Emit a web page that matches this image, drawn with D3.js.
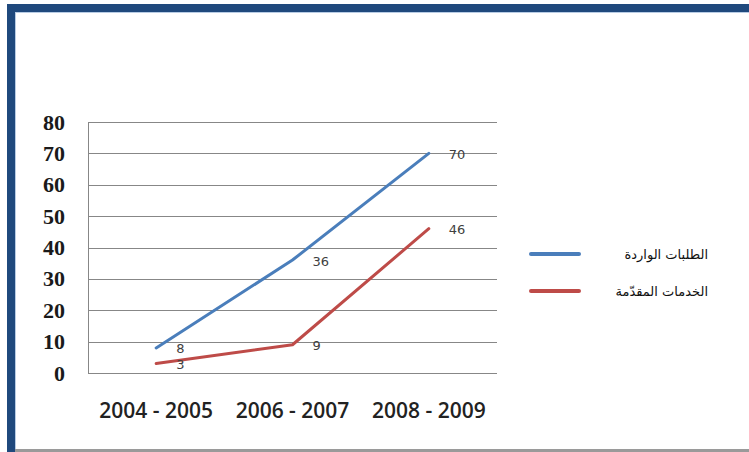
<!DOCTYPE html>
<html>
<head>
<meta charset="utf-8">
<script src="https://cdn.jsdelivr.net/npm/d3@7"></script>
<style>
  html, body { margin: 0; padding: 0; background: #fff; }
  svg { display: block; }
</style>
</head>
<body>
<svg id="chart" width="749" height="452"></svg>
<script>
const categories = ["2004 - 2005", "2006 - 2007", "2008 - 2009"];
const seriesNames = ["الطلبات الواردة", "الخدمات المقدّمة"];
const requests = [8, 36, 70];
const services = [3, 9, 46];
const yTicks = [0, 10, 20, 30, 40, 50, 60, 70, 80];
const colors = ["#4a7ebb", "#be4b48"];

const svg = d3.select("#chart");

// frame
svg.append("rect").attr("x", 0).attr("y", 0).attr("width", 749).attr("height", 452).attr("fill", "#fff");
svg.append("rect").attr("x", 7).attr("y", 4).attr("width", 742).attr("height", 8).attr("fill", "#1f497d");
svg.append("rect").attr("x", 7).attr("y", 4).attr("width", 8).attr("height", 448).attr("fill", "#1f497d");
svg.append("line").attr("x1", 15).attr("x2", 749).attr("y1", 12.5).attr("y2", 12.5).attr("stroke", "#b8cce4").attr("stroke-width", 1);
svg.append("line").attr("x1", 15.5).attr("x2", 15.5).attr("y1", 12).attr("y2", 449).attr("stroke", "#b8cce4").attr("stroke-width", 1);
svg.append("rect").attr("x", 15).attr("y", 449).attr("width", 734).attr("height", 3).attr("fill", "#9a9a9a");

const x = d3.scaleBand().domain(categories).range([88, 497]).padding(0);
const y = d3.scaleLinear().domain([0, 80]).range([373, 122]);
const cx = d => x(d) + x.bandwidth() / 2;

// gridlines
svg.append("g").selectAll("line").data(yTicks).join("line")
  .attr("x1", 88).attr("x2", 497)
  .attr("y1", d => Math.round(y(d)) + 0.5).attr("y2", d => Math.round(y(d)) + 0.5)
  .attr("stroke", "#878787").attr("stroke-width", 1);
svg.append("line").attr("x1", 88.5).attr("x2", 88.5).attr("y1", y(80)).attr("y2", y(0) + 1)
  .attr("stroke", "#878787").attr("stroke-width", 1);

// y labels
svg.append("g").selectAll("text").data(yTicks).join("text")
  .attr("x", 65).attr("y", d => y(d))
  .attr("text-anchor", "end").attr("dominant-baseline", "central")
  .attr("font-family", "Liberation Serif, serif").attr("font-weight", "bold")
  .attr("font-size", 22).attr("fill", "#1a1a1a")
  .text(d => d);

// x labels
svg.append("g").selectAll("text").data(categories).join("text")
  .attr("x", d => cx(d)).attr("y", 418)
  .attr("text-anchor", "middle")
  .attr("font-family", "Open Sans, sans-serif").attr("font-weight", 600)
  .attr("font-size", 21).attr("fill", "#222")
  .text(d => d);

const series = [requests, services];
const line = d3.line().x((d, i) => cx(categories[i])).y(d => y(d));

series.forEach((vals, si) => {
  svg.append("path").datum(vals)
    .attr("d", line)
    .attr("fill", "none").attr("stroke", colors[si]).attr("stroke-width", 3)
    .attr("stroke-linejoin", "round").attr("stroke-linecap", "round");
  svg.append("g").selectAll("text").data(vals).join("text")
    .attr("x", (d, i) => cx(categories[i]) + 20)
    .attr("y", d => y(d) + 1)
    .attr("dominant-baseline", "central")
    .attr("font-family", "DejaVu Sans, sans-serif").attr("font-size", 13)
    .attr("fill", "#404040")
    .text(d => d);
});

// legend
const legendY = [254, 291];
seriesNames.forEach((name, i) => {
  svg.append("line").attr("x1", 531).attr("x2", 579)
    .attr("y1", legendY[i]).attr("y2", legendY[i])
    .attr("stroke", colors[i]).attr("stroke-width", 4).attr("stroke-linecap", "round");
  svg.append("text").attr("x", 708).attr("y", legendY[i])
    .attr("text-anchor", "end").attr("dominant-baseline", "central")
    .attr("font-family", "DejaVu Sans, sans-serif").attr("font-size", 13)
    .attr("fill", "#111")
    .text(name);
});
</script>
</body>
</html>
